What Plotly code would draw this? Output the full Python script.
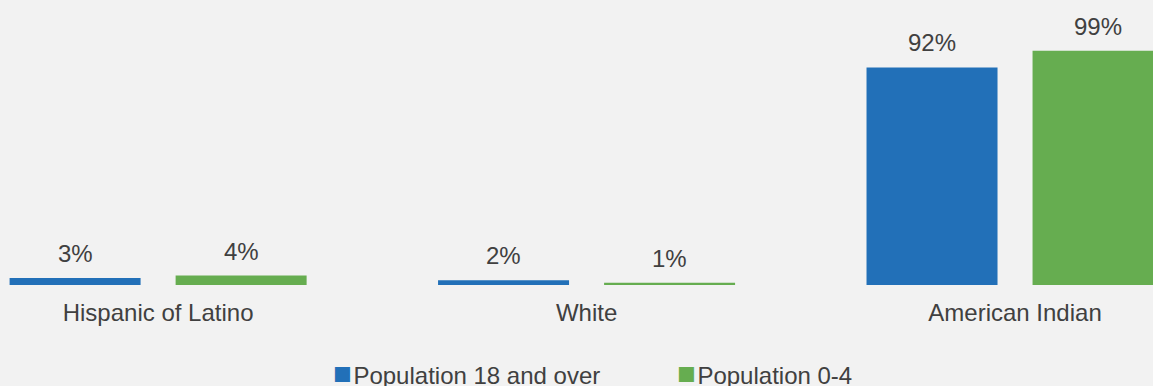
import plotly.graph_objects as go

categories = ["Hispanic of Latino", "White", "American Indian"]
pop_18_over = [3, 2, 92]
pop_0_4 = [4, 1, 99]
series_names = ["Population 18 and over", "Population 0-4"]

BLUE = "#2270B8"
GREEN = "#66AD50"
TXT = "#404040"
FONT = "Liberation Sans, Arial, sans-serif"
FS = 24

BARGAP = 0.225
GROUPGAP = 0.211

xpos = list(range(len(categories)))
slot = (1 - BARGAP) / 2  # width of each series slot in category units

fig = go.Figure()
series = [(series_names[0], pop_18_over, BLUE), (series_names[1], pop_0_4, GREEN)]
for k, (name, vals, col) in enumerate(series):
    fig.add_trace(go.Bar(
        x=xpos, y=vals, name=name, marker=dict(color=col, line=dict(width=0)),
        showlegend=False,
    ))
    off = (k - 0.5) * slot
    for xi, v in zip(xpos, vals):
        fig.add_annotation(x=xi + off, y=v, xref="x", yref="y", text=f"{v}%",
                           showarrow=False, yanchor="bottom", yshift=9,
                           font=dict(size=FS, color=TXT, family=FONT))

# legend built from text annotations
leg_x = [331 / 1153, 675 / 1153]
for (name, vals, col), lx in zip(series, leg_x):
    fig.add_annotation(x=lx, y=-0.312, xref="paper", yref="paper", xanchor="left", yanchor="middle",
                       showarrow=False,
                       text=(f"<span style='color:{col};font-size:31px'>■</span>"
                             f"<span style='font-size:6px'> </span>{name}"),
                       font=dict(size=FS, color=TXT, family=FONT))

fig.update_layout(
    width=1153, height=386,
    paper_bgcolor="#F2F2F2", plot_bgcolor="#F2F2F2",
    margin=dict(l=0, r=0, t=0, b=101),
    barmode="group", bargap=BARGAP, bargroupgap=GROUPGAP,
    font=dict(family=FONT, color=TXT, size=FS),
    xaxis=dict(range=[-0.369, 2.322], tickmode="array", tickvals=xpos, ticktext=categories,
               showgrid=False, zeroline=False, showline=False,
               ticks="outside", ticklen=6, tickcolor="rgba(0,0,0,0)",
               tickfont=dict(size=FS, color=TXT, family=FONT)),
    yaxis=dict(range=[0, 120.5], visible=False, showgrid=False, zeroline=False),
    showlegend=False,
)

fig.write_html("out.html")
